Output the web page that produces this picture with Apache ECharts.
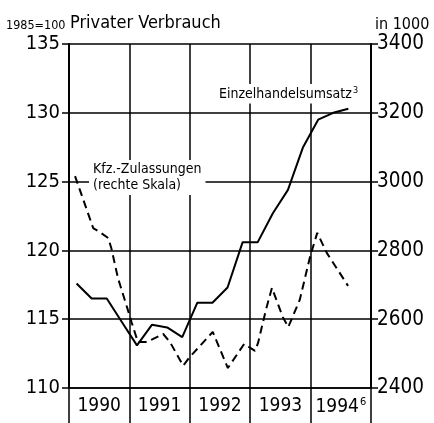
<!DOCTYPE html>
<html>
<head>
<meta charset="utf-8">
<script src="https://cdn.jsdelivr.net/npm/echarts@6/dist/echarts.min.js"></script>
<style>
  html, body { margin: 0; padding: 0; background: #fff; }
  #chart { width: 434px; height: 423px; }
</style>
</head>
<body>
<div id="chart"></div>
<script>
// Jahre (Kategorien für die Beschriftung)
let yearList = ['1990', '1991', '1992', '1993', '1994']
// linke Skala 1985=100, rechte Skala in 1000
let leftTicks = [110, 135, 5]
let rightTicks = [2400, 3400, 200]
// Einzelhandelsumsatz, Quartale [Jahr, Index]
let umsatzList = [
  [1990.125, 117.6], [1990.375, 116.5], [1990.625, 116.5], [1990.875, 114.8],
  [1991.125, 113.1], [1991.375, 114.6], [1991.625, 114.4], [1991.875, 113.7],
  [1992.125, 116.2], [1992.375, 116.2], [1992.625, 117.3], [1992.875, 120.6],
  [1993.125, 120.6], [1993.375, 122.7], [1993.625, 124.4], [1993.875, 127.5],
  [1994.125, 129.5], [1994.375, 130.0], [1994.625, 130.3]
]
// Kfz-Zulassungen (rechte Skala) [Jahr, Tsd.]
let kfzList = [
  [1990.10, 3016], [1990.40, 2865], [1990.51, 2853], [1990.65, 2836], [1990.70, 2807],
  [1990.81, 2720], [1990.96, 2635], [1991.04, 2589], [1991.14, 2534], [1991.29, 2534],
  [1991.56, 2557], [1991.67, 2534], [1991.89, 2465], [1992.00, 2490], [1992.38, 2563],
  [1992.63, 2458], [1992.90, 2528], [1993.08, 2508], [1993.13, 2531], [1993.26, 2627],
  [1993.36, 2691], [1993.54, 2606], [1993.63, 2577], [1993.82, 2656], [1993.99, 2781],
  [1994.11, 2851], [1994.27, 2792], [1994.62, 2697]
]

let font = 'DejaVu Sans Condensed, Liberation Sans Narrow, DejaVu Sans, sans-serif'
let chart = echarts.init(document.getElementById('chart'))

let option = {
  backgroundColor: '#fff',
  animation: false,
  title: [
    { text: '1985=100', left: 6, top: 19, padding: 0,
      textStyle: { fontFamily: font, fontSize: 12.5, fontWeight: 'normal', color: '#000' } },
    { text: 'Privater Verbrauch', left: 70, top: 14, padding: 0,
      textStyle: { fontFamily: font, fontSize: 18, fontWeight: 'normal', color: '#000' } },
    { text: 'in 1000', left: 375, top: 17, padding: 0,
      textStyle: { fontFamily: font, fontSize: 16, fontWeight: 'normal', color: '#000' } },
    { text: 'Einzelhandelsumsatz{s|3}', left: 216, top: 84, padding: [2, 3, 2, 3],
      backgroundColor: '#fff',
      textStyle: { fontFamily: font, fontSize: 14, fontWeight: 'normal', color: '#000',
        rich: { s: { fontFamily: font, fontSize: 9, verticalAlign: 'top', padding: [0, 0, 8, 1] } } } },
    { text: 'Kfz.-Zulassungen\n(rechte Skala)', left: 89, top: 160, padding: [1, 4, 2, 4],
      backgroundColor: '#fff',
      textStyle: { fontFamily: font, fontSize: 14, lineHeight: 16, fontWeight: 'normal', color: '#000' } }
  ],
  grid: { left: 69, right: 63, top: 44, bottom: 35 },
  xAxis: [
    { type: 'value', min: 1990, max: 1995, show: false },
    { type: 'category', data: yearList, position: 'bottom', boundaryGap: true,
      axisLine: { show: true, lineStyle: { color: '#000', width: 1.5 } },
      axisTick: { show: true, interval: 0, length: 35, lineStyle: { color: '#000', width: 1.5 } },
      splitLine: { show: true, interval: 0, lineStyle: { color: '#000', width: 1.5 } },
      axisLabel: { interval: 0, margin: 9, color: '#000', fontFamily: font, fontSize: 19,
        formatter: function (v) { return v === '1994' ? '1994{s|6}' : v },
        rich: { s: { fontFamily: font, fontSize: 11, verticalAlign: 'top', padding: [0, 0, 10, 1] } } } }
  ],
  yAxis: [
    { type: 'value', min: leftTicks[0], max: leftTicks[1], interval: leftTicks[2], position: 'left',
      axisLine: { show: true, lineStyle: { color: '#000', width: 2 } },
      axisTick: { show: true, length: 7, lineStyle: { color: '#000', width: 1.5 } },
      splitLine: { show: true, lineStyle: { color: '#000', width: 1.5 } },
      axisLabel: { margin: 9, color: '#000', fontFamily: font, fontSize: 20 } },
    { type: 'value', min: rightTicks[0], max: rightTicks[1], interval: rightTicks[2], position: 'right',
      axisLine: { show: true, lineStyle: { color: '#000', width: 2 } },
      axisTick: { show: true, length: 7, lineStyle: { color: '#000', width: 1.5 } },
      splitLine: { show: false },
      axisLabel: { margin: 6, color: '#000', fontFamily: font, fontSize: 20.5,
        formatter: function (v) { return String(v) } } }
  ],
  series: [
    { name: 'Einzelhandelsumsatz', type: 'line', xAxisIndex: 0, yAxisIndex: 0,
      data: umsatzList, symbol: 'none', lineStyle: { color: '#000', width: 2 } },
    { name: 'Kfz.-Zulassungen', type: 'line', xAxisIndex: 0, yAxisIndex: 1,
      data: kfzList, symbol: 'none',
      lineStyle: { color: '#000', width: 2, type: [8, 5] } }
  ]
}
chart.setOption(option)
</script>
</body>
</html>
